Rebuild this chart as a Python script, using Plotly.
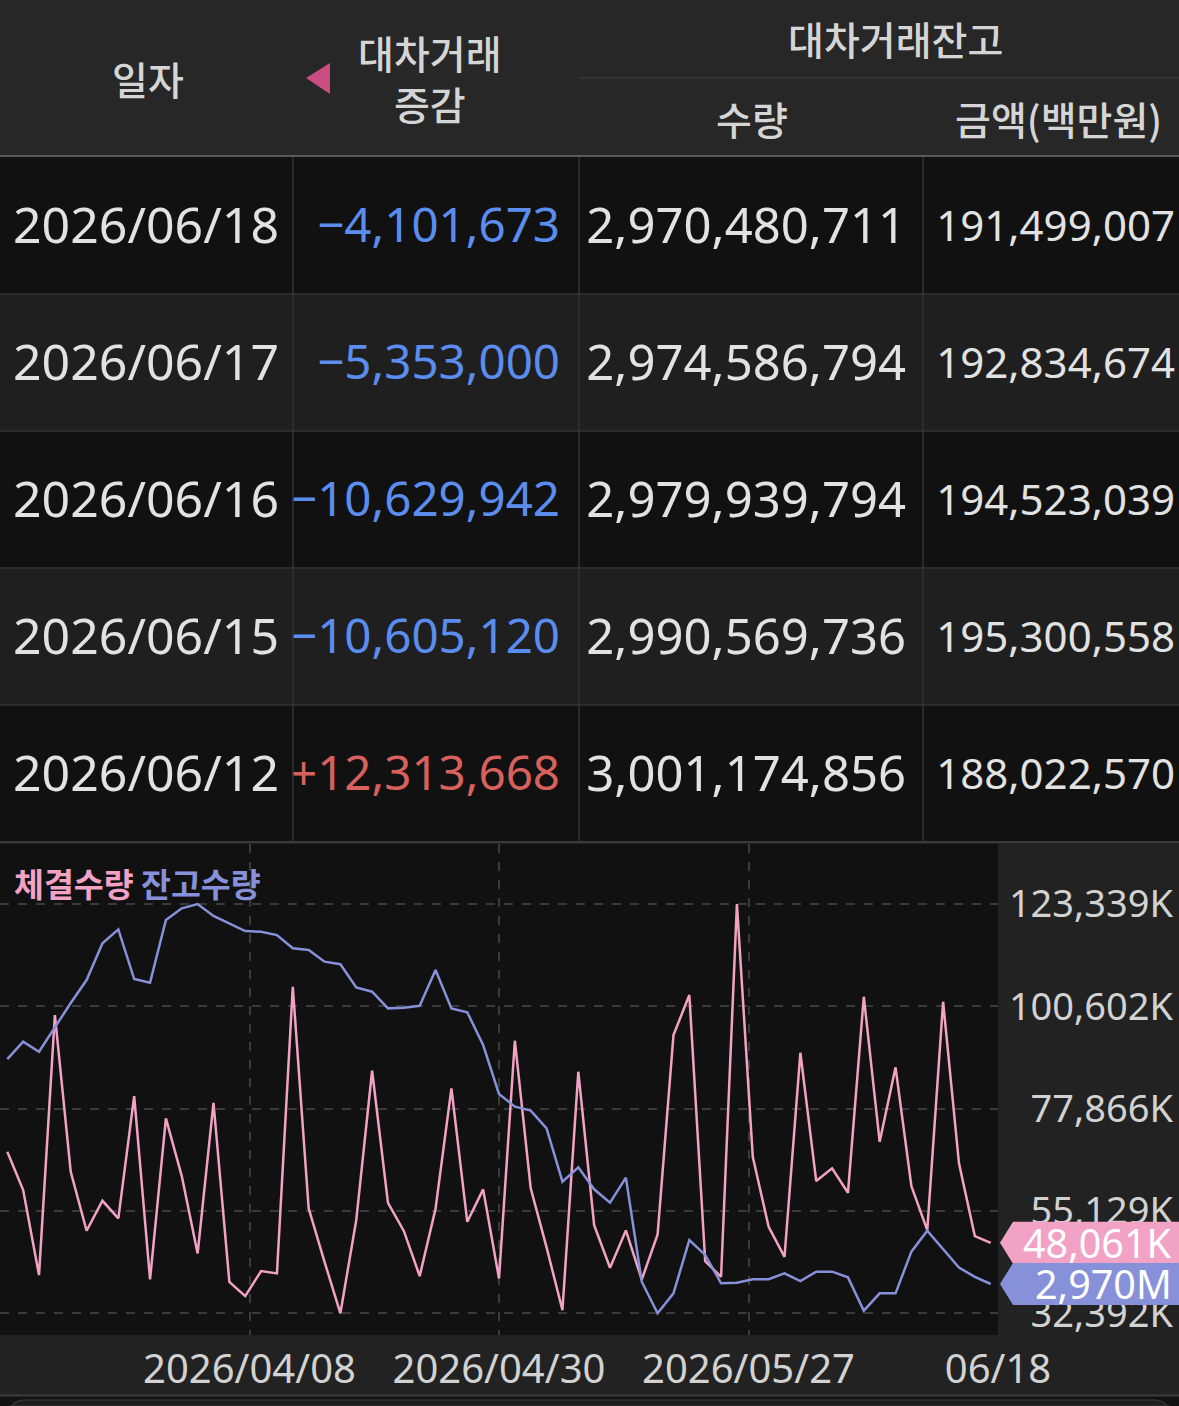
import plotly.graph_objects as go

W, H = 1179, 1406

# ---- table data (latest first) ----
tbl_dates = ["2026/06/18", "2026/06/17", "2026/06/16", "2026/06/15", "2026/06/12"]
tbl_change = [-4101673, -5353000, -10629942, -10605120, 12313668]
tbl_qty = [2970480711, 2974586794, 2979939794, 2990569736, 3001174856]
tbl_amount = [191499007, 192834674, 194523039, 195300558, 188022570]

# ---- chart data ----
dates = [
    "2026/03/18", "2026/03/19", "2026/03/20", "2026/03/23", "2026/03/24", "2026/03/25",
    "2026/03/26", "2026/03/27", "2026/03/30", "2026/03/31", "2026/04/01", "2026/04/02",
    "2026/04/03", "2026/04/06", "2026/04/07", "2026/04/08", "2026/04/09", "2026/04/10",
    "2026/04/13", "2026/04/14", "2026/04/15", "2026/04/16", "2026/04/17", "2026/04/20",
    "2026/04/21", "2026/04/22", "2026/04/23", "2026/04/24", "2026/04/27", "2026/04/28",
    "2026/04/29", "2026/04/30", "2026/05/04", "2026/05/06", "2026/05/07", "2026/05/08",
    "2026/05/11", "2026/05/12", "2026/05/13", "2026/05/14", "2026/05/15", "2026/05/18",
    "2026/05/19", "2026/05/20", "2026/05/21", "2026/05/22", "2026/05/26", "2026/05/27",
    "2026/05/28", "2026/05/29", "2026/06/01", "2026/06/02", "2026/06/04", "2026/06/05",
    "2026/06/08", "2026/06/09", "2026/06/10", "2026/06/11", "2026/06/12", "2026/06/15",
    "2026/06/16", "2026/06/17", "2026/06/18",
]
# 체결수량 (thousand shares)
volume_k = [
    68285, 59773, 40881, 98668, 63840, 50727, 57394, 53482, 80665, 39925,
    75709, 62884, 45704, 79176, 39391, 36213, 41770, 41258, 104958, 55705,
    43837, 32392, 53105, 86288, 56950, 50690, 40658, 55640, 82376, 52727,
    59928, 40147, 92956, 60150, 47037, 33101, 86066, 51994, 42503, 50810,
    39870, 49926, 94223, 103113, 43992, 40503, 123339, 67174, 51616, 44948,
    90289, 61773, 64596, 59172, 102735, 70508, 87044, 60662, 50882, 101624,
    65707, 49549, 48061,
]
# 잔고수량 (million shares)
balance_m = [
    3100.0, 3110.0, 3104.2, 3118.6, 3132.3, 3145.5, 3166.7, 3174.7, 3146.1, 3144.0,
    3180.1, 3186.8, 3189.3, 3182.4, 3178.2, 3173.7, 3173.3, 3171.4, 3163.8, 3162.8,
    3156.1, 3154.6, 3141.3, 3138.8, 3129.2, 3129.6, 3130.7, 3151.3, 3129.2, 3126.9,
    3108.1, 3079.9, 3072.6, 3070.3, 3060.1, 3029.4, 3037.7, 3025.0, 3017.3, 3031.7,
    2971.8, 2953.6, 2965.1, 2995.8, 2987.2, 2970.9, 2971.2, 2973.2, 2973.2, 2976.6,
    2972.2, 2977.6, 2977.6, 2974.3, 2955.1, 2965.1, 2965.1, 2989.1, 3001.17, 2990.57,
    2979.94, 2974.59, 2970.48,
]

PINK = "#f2a2c4"
BLUE = "#8791da"
TXT = "#e2e2e2"
NUM_FONT = "Noto Sans"
KR_FONT = "Noto Sans CJK KR"


def px(x):
    return x / W


def py(y):
    return 1 - y / H


# layout geometry in pixels
HEAD_BOT = 156
TBL_TOP, TBL_BOT = 157, 842
CH_TOP, CH_BOT, CH_RIGHT = 844, 1335, 998
col_edges = [0, 293, 579, 923, 1179]
TEXT_DY = 0.035  # nudges cell text down to optical centre

fig = go.Figure()

# ---------------- table ----------------
rows = list(range(len(tbl_dates)))
text_rows = [r + TEXT_DY for r in rows]
fig.add_trace(go.Heatmap(
    x=col_edges, y=rows,
    z=[[r % 2] * 4 for r in rows],
    colorscale=[[0, "#111111"], [1, "#1f1f1f"]], zmin=0, zmax=1,
    showscale=False, hoverinfo="skip", xaxis="x3", yaxis="y3",
))


def signed(v):
    return f"{v:+,}".replace("-", "\u2212")


fig.add_trace(go.Scatter(
    x=[146] * 5, y=text_rows, text=tbl_dates, mode="text", textposition="middle center",
    textfont=dict(family=NUM_FONT, size=50, color=TXT),
    xaxis="x3", yaxis="y3", hoverinfo="skip", cliponaxis=False,
))
fig.add_trace(go.Scatter(
    x=[560] * 5, y=text_rows, text=[signed(v) for v in tbl_change], mode="text",
    textposition="middle left",
    textfont=dict(family=NUM_FONT, size=47.5,
                  color=["#5b8def" if v < 0 else "#d8615d" for v in tbl_change]),
    xaxis="x3", yaxis="y3", hoverinfo="skip", cliponaxis=False,
))
fig.add_trace(go.Scatter(
    x=[906] * 5, y=text_rows, text=[f"{v:,}" for v in tbl_qty], mode="text",
    textposition="middle left",
    textfont=dict(family=NUM_FONT, size=49, color=TXT),
    xaxis="x3", yaxis="y3", hoverinfo="skip", cliponaxis=False,
))
fig.add_trace(go.Scatter(
    x=[1175] * 5, y=text_rows, text=[f"{v:,}" for v in tbl_amount], mode="text",
    textposition="middle left",
    textfont=dict(family=NUM_FONT, size=42, color=TXT),
    xaxis="x3", yaxis="y3", hoverinfo="skip", cliponaxis=False,
))

# ---------------- chart ----------------
n = len(dates)
idx = list(range(n))


def padded(vals):
    lo, hi = min(vals), max(vals)
    span = hi - lo
    return [lo - 0.053 * span, hi + 0.1466 * span]


vol_range = padded(volume_k)
bal_range = padded(balance_m)
vmin, vmax = min(volume_k), max(volume_k)
vol_ticks = [vmin + k * (vmax - vmin) / 4 for k in range(5)]

xpad = 0.46
x_range = [-xpad, n - 1 + xpad]
x_ticks = [x_range[0] + k * (x_range[1] - x_range[0]) / 4 for k in range(1, 5)]
x_ticks[-1] -= 1e-6
x_text = [dates[min(n - 1, round(t))] for t in x_ticks]
x_text[-1] = x_text[-1][5:]

fig.add_trace(go.Scatter(
    x=idx, y=volume_k, mode="lines", name="체결수량",
    line=dict(color=PINK, width=2.5), customdata=dates,
))
fig.add_trace(go.Scatter(
    x=idx, y=balance_m, mode="lines", name="잔고수량", yaxis="y2",
    line=dict(color=BLUE, width=2.5), customdata=dates,
))

ch_dom = [py(CH_BOT), py(CH_TOP)]

shapes = [
    # header background
    dict(type="rect", xref="paper", yref="paper", x0=0, x1=1, y0=py(HEAD_BOT), y1=1,
         fillcolor="#272727", line_width=0, layer="below"),
    dict(type="line", xref="paper", yref="paper", x0=0, x1=1, y0=py(HEAD_BOT), y1=py(HEAD_BOT),
         line=dict(color="#5a5a5a", width=2)),
    dict(type="line", xref="paper", yref="paper", x0=px(579), x1=1, y0=py(78), y1=py(78),
         line=dict(color="#383838", width=1.5)),
    # sort marker
    dict(type="path", xref="paper", yref="paper",
         path=f"M {px(306)},{py(78)} L {px(330)},{py(63)} L {px(330)},{py(94)} Z",
         fillcolor="#c94d80", line_width=0),
    # bottom strip
    dict(type="rect", xref="paper", yref="paper", x0=0, x1=1, y0=0, y1=py(1396),
         fillcolor="#121212", line_width=0),
    dict(type="line", xref="paper", yref="paper", x0=0, x1=1, y0=py(1395.5), y1=py(1395.5),
         line=dict(color="#3c3c3c", width=2)),
    dict(type="path", xref="paper", yref="paper",
         path=(f"M {px(10)},0 L {px(10)},{py(1414)} Q {px(10)},{py(1400)} {px(26)},{py(1400)} "
               f"L {px(1153)},{py(1400)} Q {px(1169)},{py(1400)} {px(1169)},{py(1414)} "
               f"L {px(1169)},0 Z"),
         fillcolor="#1d1d1d", line=dict(color="#333333", width=1.5)),
]

# table grid lines
for xe in col_edges[1:-1]:
    shapes.append(dict(type="line", xref="x3", yref="y3", x0=xe, x1=xe, y0=-0.5, y1=len(rows) - 0.5,
                       line=dict(color="#333333", width=1.5)))
for r in rows[:-1]:
    shapes.append(dict(type="line", xref="x3", yref="y3", x0=0, x1=W, y0=r + 0.5, y1=r + 0.5,
                       line=dict(color="#333333", width=1.5)))
shapes.append(dict(type="line", xref="paper", yref="paper", x0=0, x1=1,
                   y0=py(TBL_BOT), y1=py(TBL_BOT), line=dict(color="#3a3a3a", width=2)))

# price tags at the right edge
annotations = []
for val, rng, color, label in [
    (volume_k[-1], vol_range, PINK, f"{volume_k[-1]:,.0f}K"),
    (balance_m[-1], bal_range, BLUE, f"{balance_m[-1]:,.0f}M"),
]:
    yc = CH_BOT - (val - rng[0]) / (rng[1] - rng[0]) * (CH_BOT - CH_TOP)
    shapes.append(dict(
        type="path", xref="paper", yref="paper",
        path=(f"M {px(1000)},{py(yc)} L {px(1013)},{py(yc - 21)} L 1,{py(yc - 21)} "
              f"L 1,{py(yc + 21)} L {px(1013)},{py(yc + 21)} Z"),
        fillcolor=color, line_width=0, layer="above"))
    annotations.append(dict(
        xref="paper", yref="paper", x=px(1174), y=py(yc), xanchor="right", yanchor="middle",
        text=label, showarrow=False, font=dict(family=NUM_FONT, size=39.5, color="#ffffff")))

# header texts
hdr = dict(family=KR_FONT, size=39, color="#d5d5d5", weight=500)
for x, y, t in [(148, 78, "일자"), (430, 78, "대차거래<br>증감"), (895, 38, "대차거래잔고"),
                (752, 118, "수량"), (1058, 118, "금액(백만원)")]:
    annotations.append(dict(xref="paper", yref="paper", x=px(x), y=py(y), text=t,
                            showarrow=False, font=hdr, xanchor="center", yanchor="middle"))

annotations.append(dict(
    xref="paper", yref="paper", x=px(12), y=py(882), xanchor="left", yanchor="middle",
    showarrow=False, font=dict(family=KR_FONT, size=32.5),
    text=f"<b><span style='color:{PINK}'>체결수량</span> <span style='color:{BLUE}'>잔고수량</span></b>",
))

fig.update_layout(
    width=W, height=H, margin=dict(l=0, r=0, t=0, b=0, pad=0), autosize=False,
    paper_bgcolor="#222222", plot_bgcolor="#111111", showlegend=False,
    xaxis=dict(domain=[0, CH_RIGHT / W], range=x_range, anchor="y", automargin=False,
               tickvals=x_ticks, ticktext=x_text, ticks="", ticklabelstandoff=7,
               tickfont=dict(family=NUM_FONT, size=40, color="#d2d2d2"),
               showgrid=True, gridcolor="#3a3a3a", griddash="dash", gridwidth=1.5,
               zeroline=False, showline=False),
    yaxis=dict(domain=ch_dom, range=vol_range, anchor="free", position=1, side="left",
               automargin=False,
               tickvals=vol_ticks, ticktext=[f"{v:,.0f}K" for v in vol_ticks],
               ticks="", ticklabelstandoff=6,
               tickfont=dict(family=NUM_FONT, size=38, color="#d2d2d2"),
               showgrid=True, gridcolor="#3a3a3a", griddash="dash", gridwidth=1.5,
               zeroline=False, showline=False),
    yaxis2=dict(domain=ch_dom, range=bal_range, overlaying="y", visible=False,
                automargin=False),
    xaxis3=dict(domain=[0, 1], range=[0, W], anchor="y3", visible=False, automargin=False),
    yaxis3=dict(domain=[py(TBL_BOT), py(TBL_TOP)], range=[len(rows) - 0.5, -0.5],
                anchor="x3", visible=False, automargin=False),
    shapes=shapes, annotations=annotations,
)

page_fix = (
    "document.documentElement.style.overflow='hidden';"
    "document.body.style.margin='0';document.body.style.overflow='hidden';"
)

fig.write_html("out.html", post_script=page_fix,
               config={"responsive": False, "displayModeBar": False})
